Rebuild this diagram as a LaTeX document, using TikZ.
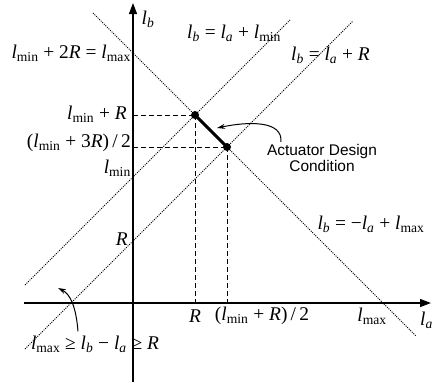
\documentclass[tikz,border=0pt]{standalone}
\usepackage{fontspec}
\setmainfont{Liberation Serif}
\setsansfont{Liberation Sans}
\usetikzlibrary{arrows.meta}
\newcommand{\vl}[1]{\textit{l}\textsubscript{#1}}
\newcommand{\vli}[1]{\textit{l}\textsubscript{\textit{#1}}}
\begin{document}
\begin{tikzpicture}[x=1bp,y=-1bp,
  axis/.style={line width=1.3bp,-{Triangle[length=11bp,width=8bp]}},
  dotline/.style={line width=1bp,dash pattern=on 1bp off 1.2bp},
  guide/.style={line width=1bp,dash pattern=on 5bp off 3bp},
  lbl/.style={inner sep=0pt,font=\fontsize{19.5}{21}\selectfont},
  note/.style={inner sep=0pt,font=\sffamily\fontsize{15.5}{16.5}\selectfont,align=center},
  pt/.style={circle,fill=black,inner sep=0pt,minimum size=8bp},
  callout/.style={line width=1bp,-{Stealth[length=8bp,width=5bp]}}]
\useasboundingbox (0,0) rectangle (434,382);
% axes
\coordinate (O) at (133,303);
\coordinate (vb) at (133,382);
\coordinate (vt) at (133,3);
\coordinate (hl) at (24,303);
\coordinate (hr) at (431,303);
\draw[axis] (vb) -- (vt);
\draw[axis] (hl) -- (hr);
% dotted lines
\coordinate (m1) at (93,13);   \coordinate (m2) at (416,336);
\coordinate (p1) at (25,285);  \coordinate (p2) at (290,20);
\coordinate (r1) at (25,349);  \coordinate (r2) at (353,21);
\draw[dotline] (m1) -- (m2);
\draw[dotline] (p1) -- (p2);
\draw[dotline] (r1) -- (r2);
% points
\node[pt] (A) at (195,115) {};
\node[pt] (B) at (227,147) {};
\coordinate (Ay) at (133,115);
\coordinate (By) at (133,147);
\coordinate (Ax) at (195,303);
\coordinate (Bx) at (227,303);
\draw[guide] (Ay) -- (A.center);
\draw[guide] (By) -- (B.center);
\draw[guide] (A.center) -- (Ax);
\draw[guide] (B.center) -- (Bx);
\draw[line width=3bp] (A.center) -- (B.center);
% labels
\node[lbl] (lb) at (148,19) {\vli{b}};
\node[lbl,anchor=east] (la) at (433,320) {\vli{a}};
\node[lbl,anchor=west] (e1) at (187,33) {\vli{b} = \vli{a} + \vl{min}};
\node[lbl,anchor=west] (e2) at (291,55) {\vli{b} = \vli{a} + \textit{R}};
\node[lbl] (e3) at (371,224) {\vli{b} = −\vli{a} + \vl{max}};
\node[lbl,anchor=east] (y1) at (131,53) {\vl{min} + 2\textit{R} = \vl{max}};
\node[lbl,anchor=east] (y2) at (127,114) {\vl{min} + \textit{R}};
\node[lbl,anchor=east] (y3) at (131,143) {(\vl{min} + 3\textit{R})\,/\,2};
\node[lbl,anchor=east] (y4) at (131,168) {\vl{min}};
\node[lbl,anchor=east] (y5) at (128,239) {\textit{R}};
\node[lbl] (x1) at (195,316) {\textit{R}};
\node[lbl] (x2) at (262,316) {(\vl{min} + \textit{R})\,/\,2};
\node[lbl] (x3) at (372,316) {\vl{max}};
\node[note] (cond) at (322,158) {Actuator Design\\Condition};
\node[lbl] (ineq) at (95,344) {\vl{max} ≥ \vli{b} − \vli{a} ≥ \textit{R}};
% callouts
\coordinate (t1) at (217,128);
\coordinate (t2) at (58,288);
\draw[callout] (cond.north west) ++(14,-2) .. controls (283,121) and (250,121) .. (t1);
\draw[callout] (ineq.north) ++(-17,-4) .. controls (76,306) and (70,294) .. (t2);
\end{tikzpicture}
\end{document}
